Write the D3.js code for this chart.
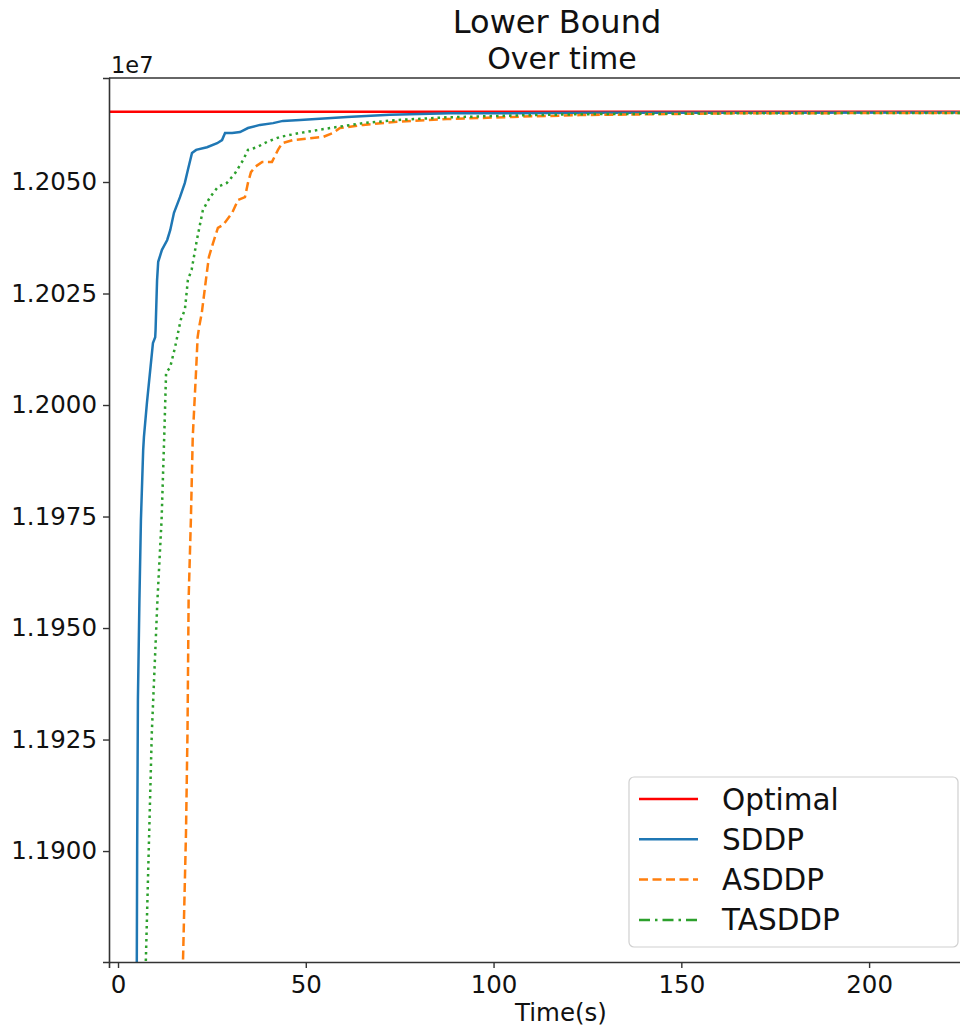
<!DOCTYPE html>
<html>
<head>
<meta charset="utf-8">
<script src="https://cdn.jsdelivr.net/npm/d3@7"></script>
<style>
    body { margin: 0; background: #fff; }
    svg { display: block; font-family: "DejaVu Sans", sans-serif; }
</style>
</head>
<body>
<div id="chart"></div>
<script>
// Values (time in seconds, bound in raw units)
const optimalValue = 12065740;

const sddpTime = [4.85, 5.0, 5.1, 5.3, 5.7, 6.1, 6.7, 6.9, 7.7, 9.3, 9.9, 10.0, 10.4, 10.7, 11.7, 13.1, 13.9, 14.9, 16.5, 17.8, 18.6, 19.7, 20.8, 23.7, 26.4, 27.7, 28.5, 30.4, 32.5, 34.6, 37.8, 41.3, 43.9, 48.5, 61.0, 72.4, 88.4, 128.4, 229.6];
const sddpBound = [11866600, 11875100, 11900200, 11933900, 11956300, 11974200, 11989900, 11992800, 12000500, 12013900, 12015200, 12016800, 12028000, 12032100, 12034800, 12037000, 12039200, 12043100, 12046600, 12049800, 12052700, 12056500, 12057200, 12057800, 12058700, 12059400, 12061000, 12061000, 12061200, 12062100, 12062800, 12063200, 12063700, 12063900, 12064600, 12065100, 12065400, 12065500, 12065600];

const asddpTime = [17.1, 17.3, 18.1, 18.5, 18.8, 19.4, 19.9, 20.8, 21.2, 21.6, 22.3, 23.4, 24.2, 25.3, 26.6, 28.0, 30.4, 32.0, 33.8, 34.6, 35.4, 36.5, 38.4, 41.0, 42.6, 43.7, 46.6, 54.6, 57.3, 59.1, 65.3, 74.3, 87.6, 105.2, 123.0, 163.8, 229.6];
const asddpBound = [11866600, 11875100, 11904000, 11926500, 11956300, 11974200, 11992800, 12007900, 12015200, 12017500, 12020600, 12028000, 12033200, 12036300, 12039700, 12040400, 12043100, 12046000, 12046600, 12049800, 12052200, 12053400, 12054500, 12054500, 12057200, 12058700, 12059400, 12060100, 12061000, 12062100, 12062800, 12063500, 12064100, 12064600, 12065000, 12065400, 12065500];

const tasddpTime = [7.3, 7.4, 8.3, 9.0, 10.5, 11.6, 12.3, 12.8, 13.9, 15.2, 16.7, 17.8, 18.6, 19.6, 21.0, 22.6, 24.5, 26.6, 29.0, 31.2, 33.3, 34.6, 37.0, 39.7, 43.1, 48.5, 56.5, 65.3, 74.3, 87.6, 105.2, 123.0, 163.8, 229.6];
const tasddpBound = [11866600, 11875100, 11904000, 11926500, 11956300, 11974200, 11992800, 12007200, 12008500, 12013000, 12019100, 12021300, 12028000, 12030300, 12037000, 12043700, 12046600, 12048900, 12049800, 12052000, 12054900, 12057200, 12057800, 12059000, 12060100, 12061000, 12062100, 12063200, 12063900, 12064500, 12064900, 12065200, 12065400, 12065500];

const xTicks = [0, 50, 100, 150, 200];
const yTicks = [11900000, 11925000, 11950000, 11975000, 12000000, 12025000, 12050000];

const legendLabels = ["Optimal", "SDDP", "ASDDP", "TASDDP"];

function zip(ts, vs) {
    return ts.map((t, i) => ({t: t, v: vs[i]}));
}

const series = [
    {name: "SDDP", color: "#1f77b4", dash: null, data: zip(sddpTime, sddpBound)},
    {name: "ASDDP", color: "#ff7f0e", dash: "9,4.5", data: zip(asddpTime, asddpBound)},
    {name: "TASDDP", color: "#2ca02c", dash: "2.5,4", data: zip(tasddpTime, tasddpBound)}
];

const width = 960, height = 1028;
const plot = {left: 109, top: 78, right: 975, bottom: 962};

const svg = d3.select("#chart").append("svg")
    .attr("width", width)
    .attr("height", height);

const x = d3.scaleLinear().domain([-2.4, 228.2]).range([plot.left, plot.right]);
const y = d3.scaleLinear().domain([11875124, 12073317]).range([plot.bottom, plot.top]);

svg.append("clipPath").attr("id", "clip")
    .append("rect")
    .attr("x", plot.left).attr("y", plot.top)
    .attr("width", plot.right - plot.left).attr("height", plot.bottom - plot.top);

const lines = svg.append("g").attr("clip-path", "url(#clip)");

// optimal reference line across the whole axes
lines.append("line")
    .attr("x1", x.range()[0]).attr("x2", x.range()[1])
    .attr("y1", y(optimalValue)).attr("y2", y(optimalValue))
    .attr("stroke", "#ff0000")
    .attr("stroke-width", 2.5);

const line = d3.line()
    .x(d => x(d.t))
    .y(d => y(d.v));

series.forEach(s => {
    lines.append("path")
        .datum(s.data)
        .attr("fill", "none")
        .attr("stroke", s.color)
        .attr("stroke-width", 2.5)
        .attr("stroke-dasharray", s.dash)
        .attr("d", line);
});

// axes
const xAxis = svg.append("g")
    .attr("transform", `translate(0,${plot.bottom})`)
    .call(d3.axisBottom(x).tickValues(xTicks).tickSize(6).tickPadding(8).tickFormat(d3.format("d")));

const yAxis = svg.append("g")
    .attr("transform", `translate(${plot.left},0)`)
    .call(d3.axisLeft(y).tickValues(yTicks).tickSize(6).tickPadding(6).tickFormat(d => (d / 1e7).toFixed(4)));

[xAxis, yAxis].forEach(a => {
    a.select(".domain").attr("stroke", "#333").attr("stroke-width", 1.6);
    a.selectAll(".tick line").attr("stroke", "#333").attr("stroke-width", 1.4);
    a.selectAll(".tick text").attr("fill", "#111").attr("font-size", 24.5).attr("font-family", "DejaVu Sans");
});

// top spine
svg.append("line")
    .attr("x1", plot.left).attr("x2", plot.right)
    .attr("y1", plot.top).attr("y2", plot.top)
    .attr("stroke", "#333").attr("stroke-width", 1.6);

svg.append("text")
    .attr("x", 111).attr("y", 73)
    .attr("font-size", 22.5).attr("fill", "#111")
    .text("1e7");

svg.append("text")
    .attr("x", 557).attr("y", 33)
    .attr("text-anchor", "middle")
    .attr("font-size", 32).attr("fill", "#111")
    .text("Lower Bound");

svg.append("text")
    .attr("x", 562).attr("y", 69)
    .attr("text-anchor", "middle")
    .attr("font-size", 30).attr("fill", "#111")
    .text("Over time");

svg.append("text")
    .attr("x", 561).attr("y", 1021)
    .attr("text-anchor", "middle")
    .attr("font-size", 24.5).attr("fill", "#111")
    .text("Time(s)");

// legend
const legend = svg.append("g");
legend.append("rect")
    .attr("x", 629).attr("y", 777)
    .attr("width", 329).attr("height", 170)
    .attr("rx", 5)
    .attr("fill", "#fff").attr("fill-opacity", 0.85)
    .attr("stroke", "#d0d0d0").attr("stroke-width", 1.2);

const legendStyles = [
    {color: "#ff0000", dash: null},
    {color: "#1f77b4", dash: null},
    {color: "#ff7f0e", dash: "9,4.5"},
    {color: "#2ca02c", dash: "11,5,2.5,5"}
];

legendLabels.forEach((label, i) => {
    const ry = 799 + i * 40.3;
    legend.append("line")
        .attr("x1", 639).attr("x2", 698)
        .attr("y1", ry).attr("y2", ry)
        .attr("stroke", legendStyles[i].color)
        .attr("stroke-width", 2.5)
        .attr("stroke-dasharray", legendStyles[i].dash);
    legend.append("text")
        .attr("x", 722).attr("y", ry + 10.5)
        .attr("font-size", 29.5).attr("fill", "#111")
        .text(label);
});
</script>
</body>
</html>
